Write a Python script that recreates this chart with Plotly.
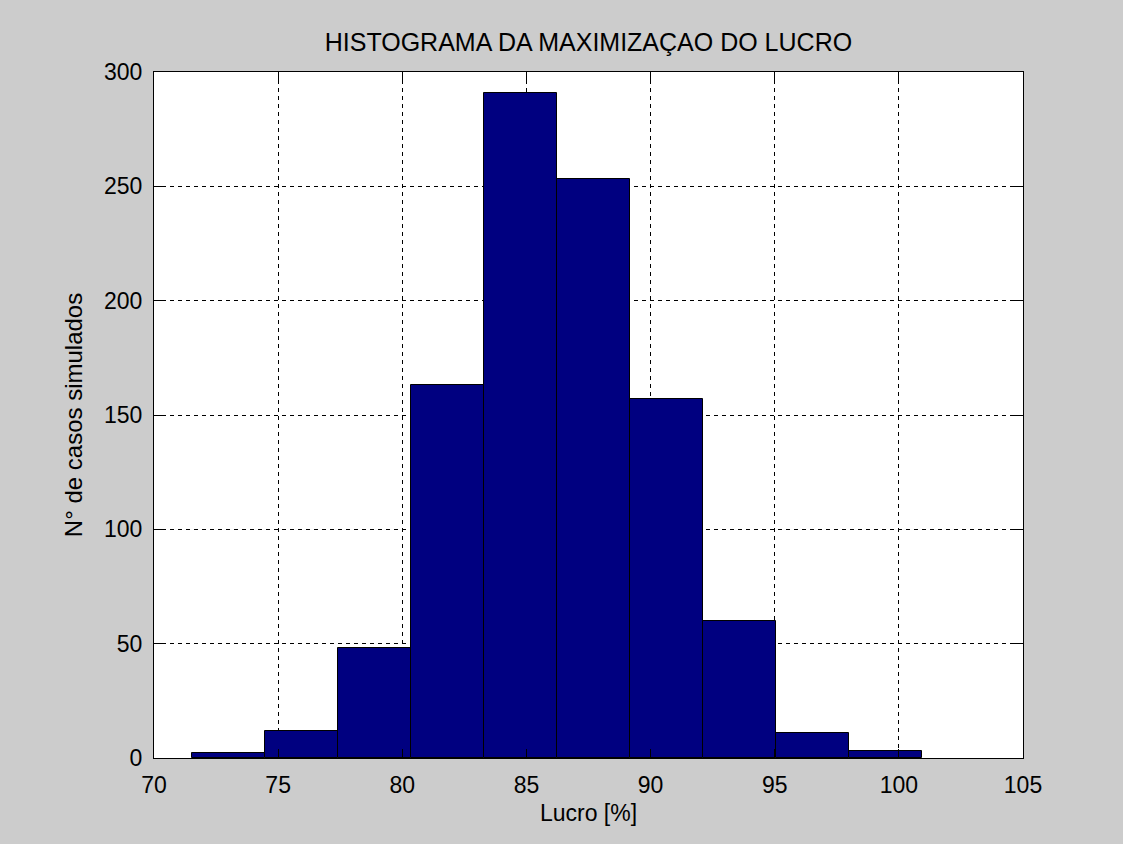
import plotly.graph_objects as go

# histogram (bin centres in %, counts per bin)
bin_centers = [72.99, 75.93, 78.87, 81.81, 84.75, 87.70, 90.64, 93.58, 96.52, 99.46]
counts = [2, 12, 48, 163, 291, 253, 157, 60, 11, 3]

x_ticks = [70, 75, 80, 85, 90, 95, 100, 105]
y_ticks = [0, 50, 100, 150, 200, 250, 300]

FONT = "Liberation Sans, Arial, sans-serif"
bin_width = bin_centers[1] - bin_centers[0]

fig = go.Figure(go.Bar(
    x=bin_centers, y=counts, width=bin_width,
    marker=dict(color="#000080", line=dict(color="black", width=1)),
    hovertemplate="%{x:.2f}: %{y}<extra></extra>",
))

axis_common = dict(
    showline=True, linecolor="black", linewidth=1, mirror="ticks",
    ticks="inside", ticklen=9, tickcolor="black", tickwidth=1,
    showgrid=True, gridcolor="black", gridwidth=1, griddash="4px,4px",
    zeroline=False, tickfont=dict(family=FONT, size=23, color="black"),
    ticklabelstandoff=6,
)

fig.update_xaxes(range=[70, 105], tickvals=x_ticks, **axis_common,
                 title=dict(text="Lucro [%]", standoff=8,
                            font=dict(family=FONT, size=23, color="black")))
fig.update_yaxes(range=[0, 300], tickvals=y_ticks, **axis_common,
                 title=dict(text="N° de casos simulados", standoff=14,
                            font=dict(family=FONT, size=24, color="black")))

fig.update_layout(
    width=1123, height=844,
    margin=dict(l=154, r=100, t=72, b=86),
    paper_bgcolor="#cccccc", plot_bgcolor="white",
    bargap=0, showlegend=False,
    title=dict(text="HISTOGRAMA DA MAXIMIZAÇAO DO LUCRO", x=0.524, xanchor="center",
               y=1 - 42 / 844, yanchor="middle", yref="container",
               font=dict(family=FONT, size=25, color="black")),
)

# drop the default page margin so the grey figure fills the window
fig.write_html("out.html", config={"displayModeBar": False},
               post_script="document.body.style.margin='0';"
                           "document.body.style.background='#cccccc';")
